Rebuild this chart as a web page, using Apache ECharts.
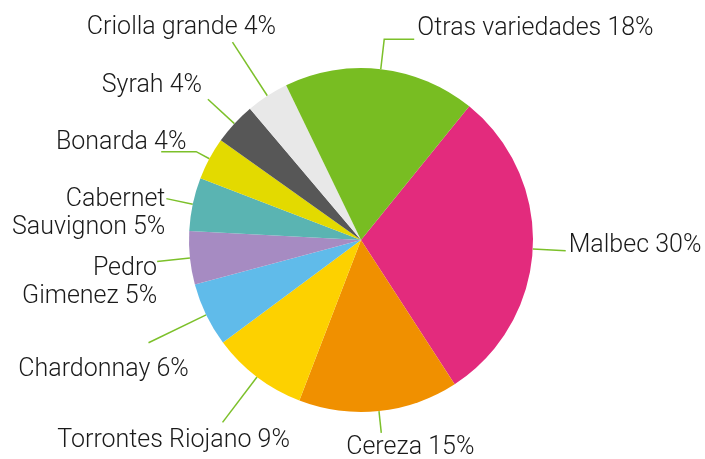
<!DOCTYPE html>
<html>
<head>
<meta charset="utf-8">
<style>html,body{margin:0;padding:0;background:#fff;}#chart{width:705px;height:459px;}</style>
<script src="https://cdn.jsdelivr.net/npm/echarts@6/dist/echarts.min.js"></script>
</head>
<body>
<div id="chart"></div>
<script>
const categories = ['Malbec', 'Cereza', 'Torrontes Riojano', 'Chardonnay', 'Pedro Gimenez', 'Cabernet Sauvignon', 'Bonarda', 'Syrah', 'Criolla grande', 'Otras variedades'];
const labelTexts = ['Malbec', 'Cereza', 'Torrontes Riojano', 'Chardonnay', 'Pedro\nGimenez', 'Cabernet\nSauvignon', 'Bonarda', 'Syrah', 'Criolla grande', 'Otras variedades'];
const values = [30, 15, 9, 6, 5, 5, 4, 4, 4, 18];
const colors = ['#e32b7d', '#f09000', '#fdd100', '#60bbea', '#a68bc2', '#5ab4b2', '#e3da00', '#575757', '#e8e8e8', '#78bd22'];
const lineLengths = [33, 22, 57, 64, 33, 27, 15, 36, 64, 30];
const lineLengths2 = [0, 0, 0, 0, 0, 0, 35, 0, 0, 30];
const labelPlacement = [
  {align: 'left', verticalAlign: 'middle', dx: 0, dy: -5},
  {align: 'center', verticalAlign: 'top', dx: 26, dy: 1},
  {align: 'center', verticalAlign: 'top', dx: -46, dy: 4},
  {align: 'center', verticalAlign: 'top', dx: -42, dy: 13},
  {align: 'right', verticalAlign: 'middle', dx: 3, dy: 21},
  {align: 'right', verticalAlign: 'middle', dx: 2, dy: 15},
  {align: 'center', verticalAlign: 'bottom', dx: -37, dy: 5},
  {align: 'center', verticalAlign: 'bottom', dx: -53, dy: 1},
  {align: 'center', verticalAlign: 'bottom', dx: -48, dy: 0},
  {align: 'left', verticalAlign: 'bottom', dx: 0, dy: 3}
];

const chart = echarts.init(document.getElementById('chart'), null, {renderer: 'canvas'});
chart.setOption({
  animation: false,
  series: [{
    type: 'pie',
    center: [361, 240],
    radius: 172,
    startAngle: 51,
    clockwise: true,
    avoidLabelOverlap: false,
    label: {
      show: true,
      position: 'outside',
      fontFamily: 'Roboto',
      fontWeight: 300,
      fontSize: 25,
      color: '#1a1a1a',
      lineHeight: 28,
      distanceToLabelLine: 3
    },
    labelLine: {
      show: true,
      lineStyle: {color: '#7cc02a', width: 1.5}
    },
    labelLayout: function (params) {
      return labelPlacement[params.dataIndex];
    },
    data: categories.map((c, i) => ({
      name: c,
      value: values[i],
      itemStyle: {color: colors[i], borderWidth: 0},
      label: {formatter: labelTexts[i] + ' ' + values[i] + '%'},
      labelLine: {length: lineLengths[i], length2: lineLengths2[i]}
    }))
  }]
});
</script>
</body>
</html>
